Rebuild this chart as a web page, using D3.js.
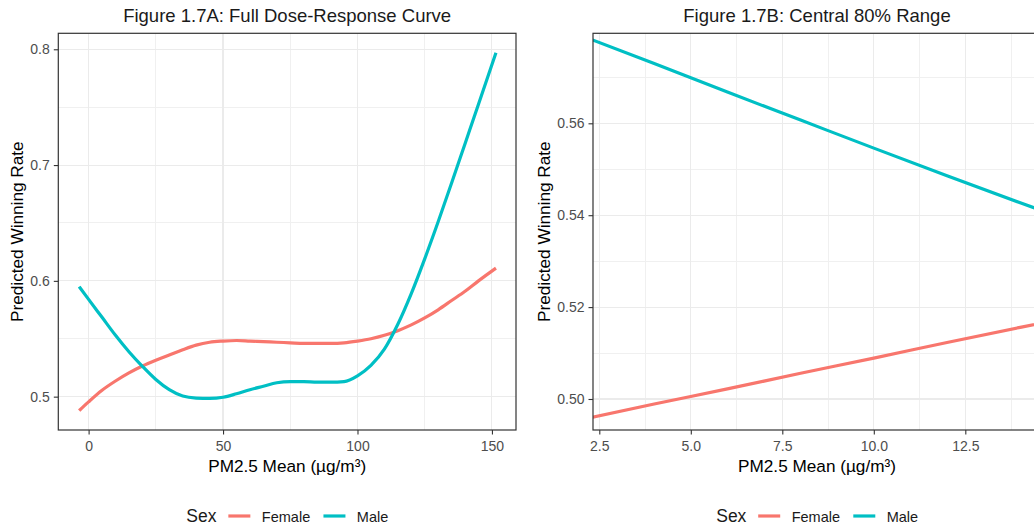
<!DOCTYPE html>
<html>
<head>
<meta charset="utf-8">
<script src="https://cdn.jsdelivr.net/npm/d3@7"></script>
<style>
  html, body { margin: 0; padding: 0; background: #fff; overflow: hidden; }
  svg { display: block; font-family: "Liberation Sans", Arial, sans-serif; }
</style>
</head>
<body>
<svg id="chart" width="1034" height="529"></svg>
<script>
// ---------------- DATA ----------------
const seriesNames = ["Female", "Male"];

// Panel A: full dose-response
const pmFull = [-3.5, 0, 5, 10, 15, 20, 25, 30, 35, 40, 45, 50, 55, 60, 65, 70, 75, 80, 85, 90, 95, 100, 105, 110, 115, 120, 125, 130, 135, 140, 145, 151.5];
const femaleFull = [0.488, 0.4955, 0.5055, 0.5135, 0.5205, 0.5265, 0.5315, 0.536, 0.5405, 0.5445, 0.547, 0.548, 0.5485, 0.548, 0.5475, 0.547, 0.5465, 0.546, 0.546, 0.546, 0.5465, 0.548, 0.550, 0.553, 0.557, 0.562, 0.568, 0.575, 0.583, 0.591, 0.600, 0.611];
const maleFull = [0.595, 0.584, 0.5685, 0.553, 0.5388, 0.5262, 0.5148, 0.506, 0.5005, 0.4988, 0.4985, 0.4995, 0.5025, 0.506, 0.509, 0.512, 0.513, 0.513, 0.5125, 0.5125, 0.513, 0.518, 0.527, 0.541, 0.5625, 0.589, 0.619, 0.651, 0.6845, 0.7185, 0.7525, 0.797];

// Panel B: central 80% range
const pmCentral = [2.0, 4, 6, 8, 10, 12, 14, 15];
const femaleCentral = [0.4955, 0.4989, 0.5022, 0.5056, 0.5089, 0.5123, 0.5156, 0.5172];
const maleCentral = [0.5791, 0.5730, 0.5668, 0.5607, 0.5546, 0.5486, 0.5427, 0.5398];

// Axis ticks
const xTicksA = [0, 50, 100, 150];
const xMinorA = [-25, 25, 75, 125, 175];
const yTicksA = [0.5, 0.6, 0.7, 0.8];
const yMinorA = [0.45, 0.55, 0.65, 0.75];
const xTicksB = [2.5, 5.0, 7.5, 10.0, 12.5];
const xMinorB = [3.75, 6.25, 8.75, 11.25, 13.75];
const yTicksB = [0.50, 0.52, 0.54, 0.56];
const yMinorB = [0.49, 0.51, 0.53, 0.55, 0.57];

const titles = ["Figure 1.7A: Full Dose-Response Curve", "Figure 1.7B: Central 80% Range"];
const xTitle = "PM2.5 Mean (\u00b5g/m\u00b3)";
const yTitle = "Predicted Winning Rate";
const legendTitle = "Sex";

// ---------------- STYLE ----------------
const colors = d3.scaleOrdinal().domain(seriesNames).range(["#F8766D", "#00BFC4"]);
const svg = d3.select("#chart");

const panels = [
  {
    id: "A", left: 58.3, right: 516, top: 33.3, bottom: 430,
    xDomain: [-11.27, 158.95], yDomain: [0.4712, 0.8138],
    xTicks: xTicksA, xMinor: xMinorA, yTicks: yTicksA, yMinor: yMinorA,
    xFmt: d3.format("d"), yFmt: d3.format(".1f"),
    x: pmFull, series: [femaleFull, maleFull], title: titles[0],
    yTitleX: 22.5
  },
  {
    id: "B", left: 593, right: 1041, top: 33.3, bottom: 430,
    xDomain: [2.328, 14.568], yDomain: [0.49325, 0.57959],
    xTicks: xTicksB, xMinor: xMinorB, yTicks: yTicksB, yMinor: yMinorB,
    xFmt: d3.format(".1f"), yFmt: d3.format(".2f"),
    x: pmCentral, series: [femaleCentral, maleCentral], title: titles[1],
    yTitleX: 550
  }
];

panels.forEach(p => {
  const x = d3.scaleLinear().domain(p.xDomain).range([p.left, p.right]);
  const y = d3.scaleLinear().domain(p.yDomain).range([p.bottom, p.top]);
  const w = p.right - p.left, h = p.bottom - p.top;
  const cx = (p.left + p.right) / 2, cy = (p.top + p.bottom) / 2;

  svg.append("clipPath").attr("id", "clip" + p.id)
    .append("rect").attr("x", p.left).attr("y", p.top).attr("width", w).attr("height", h);

  const g = svg.append("g");
  const grid = g.append("g").attr("clip-path", `url(#clip${p.id})`).attr("shape-rendering", "crispEdges");
  // minor grid
  grid.selectAll(".vmin").data(p.xMinor).join("line")
    .attr("x1", d => x(d)).attr("x2", d => x(d)).attr("y1", p.top).attr("y2", p.bottom)
    .attr("stroke", "#F0F0F0").attr("stroke-width", 1);
  grid.selectAll(".hmin").data(p.yMinor).join("line")
    .attr("y1", d => y(d)).attr("y2", d => y(d)).attr("x1", p.left).attr("x2", p.right)
    .attr("stroke", "#F0F0F0").attr("stroke-width", 1);
  // major grid
  grid.selectAll(".vmaj").data(p.xTicks).join("line")
    .attr("x1", d => x(d)).attr("x2", d => x(d)).attr("y1", p.top).attr("y2", p.bottom)
    .attr("stroke", "#EBEBEB").attr("stroke-width", 1.1);
  grid.selectAll(".hmaj").data(p.yTicks).join("line")
    .attr("y1", d => y(d)).attr("y2", d => y(d)).attr("x1", p.left).attr("x2", p.right)
    .attr("stroke", "#EBEBEB").attr("stroke-width", 1.1);

  // lines
  const line = d3.line().curve(d3.curveMonotoneX)
    .x(d => x(d[0])).y(d => y(d[1]));
  const lg = g.append("g").attr("clip-path", `url(#clip${p.id})`);
  p.series.forEach((vals, i) => {
    lg.append("path")
      .datum(p.x.map((xv, j) => [xv, vals[j]]))
      .attr("d", line)
      .attr("fill", "none")
      .attr("stroke", colors(seriesNames[i]))
      .attr("stroke-width", 3.2)
      .attr("stroke-linecap", "butt");
  });

  // border
  g.append("rect").attr("x", p.left).attr("y", p.top).attr("width", w).attr("height", h)
    .attr("fill", "none").attr("stroke", "#333333").attr("stroke-width", 1.2);

  // axes
  const xAxis = d3.axisBottom(x).tickValues(p.xTicks).tickSize(4.5).tickPadding(4).tickFormat(p.xFmt);
  const yAxis = d3.axisLeft(y).tickValues(p.yTicks).tickSize(4.5).tickPadding(4).tickFormat(p.yFmt);
  const gx = g.append("g").attr("transform", `translate(0,${p.bottom})`).call(xAxis);
  const gy = g.append("g").attr("transform", `translate(${p.left},0)`).call(yAxis);
  [gx, gy].forEach(ax => {
    ax.select(".domain").remove();
    ax.selectAll(".tick line").attr("stroke", "#333333").attr("stroke-width", 1.1);
    ax.selectAll(".tick text").attr("fill", "#4D4D4D").attr("font-size", 14)
      .attr("font-family", "'Liberation Sans', Arial, sans-serif");
  });
  gx.selectAll(".tick text").attr("dy", null).attr("y", 21);

  // titles
  g.append("text").attr("x", cx).attr("y", 22).attr("text-anchor", "middle")
    .attr("font-size", 18.5).attr("fill", "#1a1a1a").text(p.title);
  g.append("text").attr("x", cx).attr("y", 472).attr("text-anchor", "middle")
    .attr("font-size", 17.2).attr("fill", "#000").text(xTitle);
  g.append("text").attr("transform", `translate(${p.yTitleX},${cy}) rotate(-90)`)
    .attr("text-anchor", "middle").attr("font-size", 17.2).attr("fill", "#000").text(yTitle);

  // legend
  const lgd = g.append("g").attr("transform", `translate(${cx},0)`);
  lgd.append("text").attr("x", -100.8).attr("y", 522).attr("font-size", 17.5).attr("fill", "#1a1a1a").text(legendTitle);
  const keyStarts = [-58.8, 36.3];
  const labelStarts = [-25.3, 69.7];
  seriesNames.forEach((s, i) => {
    lgd.append("line").attr("x1", keyStarts[i]).attr("x2", keyStarts[i] + 22)
      .attr("y1", 516).attr("y2", 516)
      .attr("stroke", colors(s)).attr("stroke-width", 3.2);
    lgd.append("text").attr("x", labelStarts[i]).attr("y", 521.5)
      .attr("font-size", 14.5).attr("fill", "#1a1a1a").text(s);
  });
});
</script>
</body>
</html>
